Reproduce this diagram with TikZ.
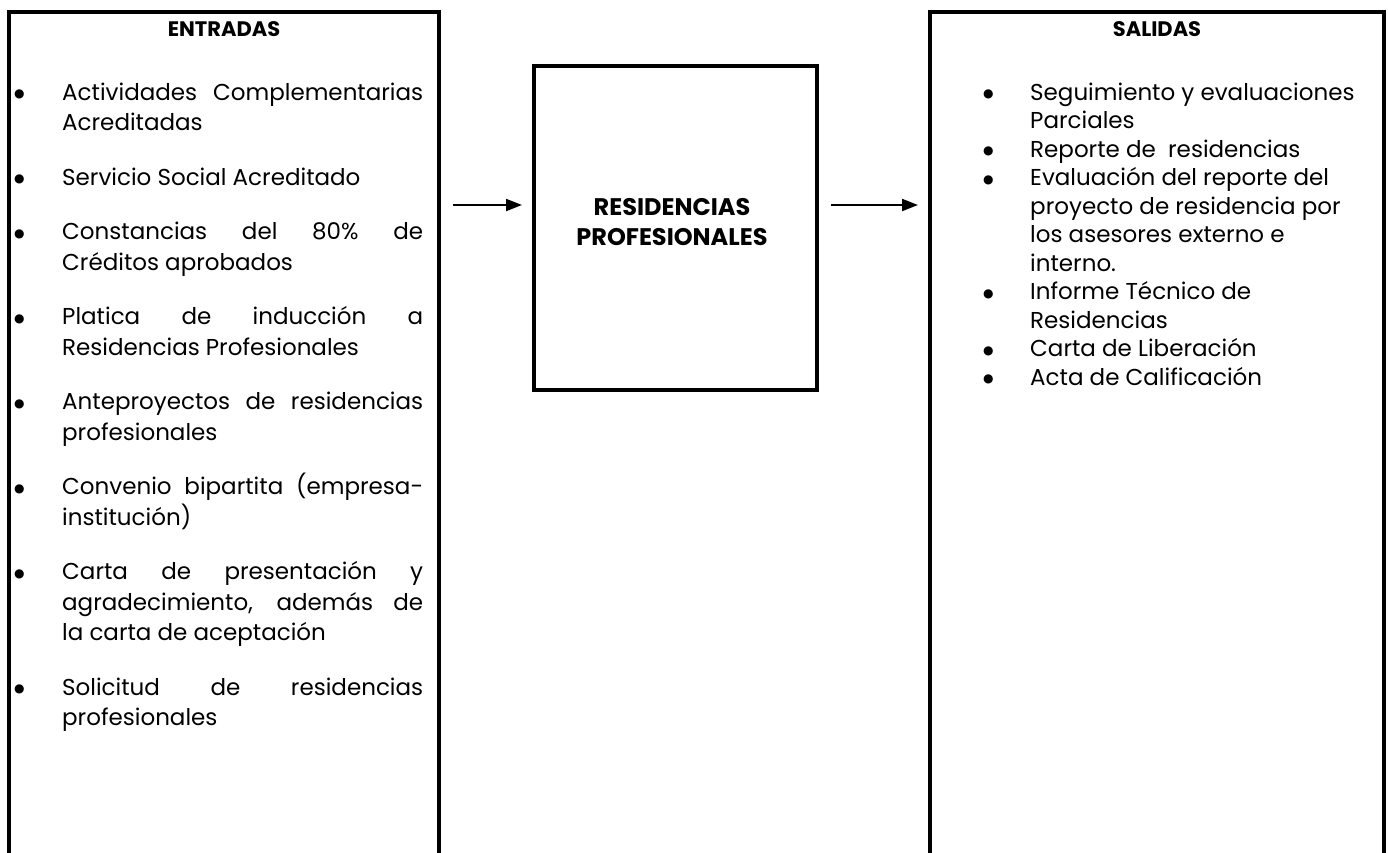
\documentclass[tikz,border=0pt]{standalone}
\usepackage{fontspec}
\setmainfont{Poppins}
\newfontfamily\vinetafont{DejaVu Sans}
\usetikzlibrary{arrows.meta}
\tikzset{>={Triangle[length=16pt,width=12pt]}}

\tikzset{
  marco/.style={line width=4pt},
  panel/.style={rectangle, inner sep=0pt, outer sep=0pt, anchor=north west},
  titulo/.style={font=\fontsize{21}{30}\selectfont\bfseries},
  texto/.style={inner sep=0pt, anchor=base west, font=\fontsize{23}{30.5}\selectfont},
  flecha/.style={->, line width=2pt, shorten <=14pt, shorten >=12pt},
}

% lista con viñetas
\newcommand{\vineta}{\raisebox{2.5pt}{\vinetafont\fontsize{12}{12}\selectfont\char"25CF}}
\newenvironment{vinetas}[2]{\begin{list}{\vineta}{%
  \setlength{\leftmargin}{#1}\setlength{\labelwidth}{#1}%
  \setlength{\labelsep}{0pt}\setlength{\itemsep}{#2}%
  \setlength{\topsep}{0pt}\setlength{\parsep}{0pt}\setlength{\partopsep}{0pt}%
  \renewcommand{\makelabel}[1]{##1\hfil}}}{\end{list}}

\begin{document}
\begin{tikzpicture}[x=1pt,y=-1pt]
\useasboundingbox (0,0) rectangle (1388,852);

% paneles
\node[panel, minimum width=430pt, minimum height=850pt] (entradas) at (9,12) {};
\node[panel, minimum width=454pt, minimum height=850pt] (salidas) at (930,12) {};
\node[panel, draw, marco, minimum width=283pt, minimum height=324pt] (proceso) at (534,66) {};

\draw[marco] (entradas.south west) -- (entradas.north west) -- (entradas.north east) -- (entradas.south east);
\draw[marco] (salidas.south west) -- (salidas.north west) -- (salidas.north east) -- (salidas.south east);

\node[titulo, anchor=base] (tent) at (224,36) {ENTRADAS};
\node[titulo, anchor=base] (tsal) at (1157,36) {SALIDAS};
\node[titulo, font=\fontsize{24}{30}\selectfont\bfseries, align=center] (rotulo) at (672,222) {RESIDENCIAS\\PROFESIONALES};

% listas
\node[texto] (lent) at (14,100) {\begin{minipage}[t]{409pt}
\begin{vinetas}{48pt}{24pt}
\item Actividades Complementarias\linebreak Acreditadas
\item Servicio Social Acreditado
\item Constancias del 80\% de\linebreak Créditos aprobados
\item Platica de inducción a\linebreak Residencias Profesionales
\item Anteproyectos de residencias\linebreak profesionales
\item Convenio bipartita (empresa-\linebreak institución)
\item Carta de presentación y\linebreak agradecimiento, además de\linebreak la carta de aceptación
\item Solicitud de residencias\linebreak profesionales
\end{vinetas}\end{minipage}};

\node[texto, font=\fontsize{23}{28.5}\selectfont] (lsal) at (983,100) {\begin{minipage}[t]{390pt}\raggedright
\begin{vinetas}{47pt}{0pt}
\item Seguimiento y evaluaciones\\ Parciales
\item Reporte de\ \ residencias
\item Evaluación del reporte del\\ proyecto de residencia por\\ los asesores externo e\\ interno.
\item Informe Técnico de\\ Residencias
\item Carta de Liberación
\item Acta de Calificación
\end{vinetas}\end{minipage}};

% flechas
\coordinate (fila) at (0,205);
\draw[flecha] (entradas.east |- fila) -- (proceso.west |- fila);
\draw[flecha] (proceso.east |- fila) -- (salidas.west |- fila);
\end{tikzpicture}
\end{document}
